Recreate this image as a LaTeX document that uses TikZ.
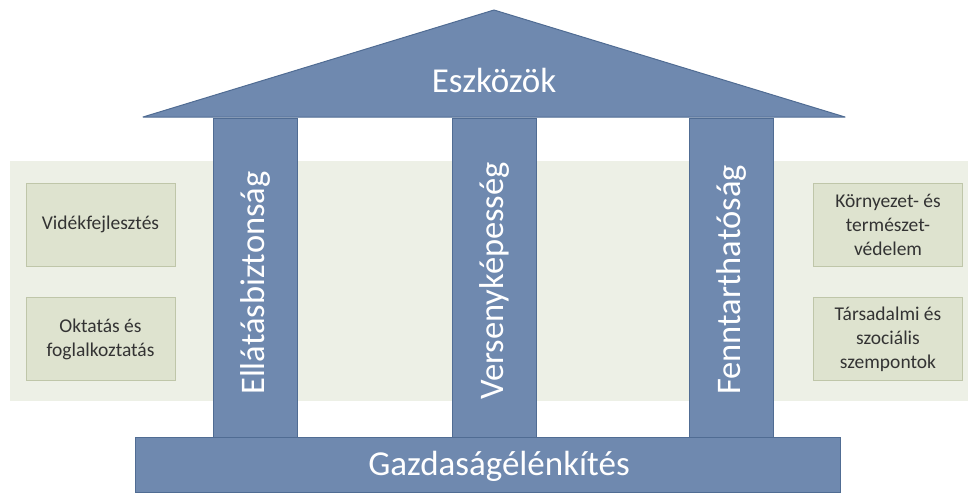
\documentclass[tikz,border=0pt]{standalone}
\usepackage{fontspec}
\setmainfont{Carlito}
\usetikzlibrary{positioning}
\definecolor{band}{HTML}{EDF0E6}
\definecolor{boxfill}{HTML}{DEE3CF}
\definecolor{boxline}{HTML}{BFC6A9}
\definecolor{pillar}{HTML}{6F89AF}
\definecolor{pillarline}{HTML}{506C93}
\definecolor{txt}{HTML}{333333}
\tikzset{
  x=1pt, y=-1pt,
  sidebox/.style={draw=boxline, fill=boxfill, line width=0.8pt, minimum width=149pt, minimum height=83pt,
    align=center, font=\fontsize{19.5}{24}\selectfont, text=txt, inner sep=2pt},
  pillarbox/.style={draw=pillarline, fill=pillar, line width=1pt, minimum width=84pt, minimum height=320pt, inner sep=0pt},
  pillartext/.style={rotate=90, text=white, font=\fontsize{34.5}{38}\selectfont, inner sep=0pt},
}
\begin{document}
\begin{tikzpicture}
\useasboundingbox (0,0) rectangle (968,495);
% background band
\fill[band] (10,161) rectangle (968,401);
% side boxes
\node[sidebox] (vid) at (100.5,224.5) {Vidékfejlesztés};
\node[sidebox] (okt) at (100.5,339) {Oktatás és\\foglalkoztatás};
\node[sidebox] (kor) at (888,224.5) {Környezet- és\\természet-\\védelem};
\node[sidebox] (tar) at (888,339) {Társadalmi és\\szociális\\szempontok};
% pillars
\node[pillarbox] (p1) at (255.5,278) {};
\node[pillarbox] (p2) at (494,278) {};
\node[pillarbox] (p3) at (731.5,278) {};
\node[pillartext] at (255.5,283) {Ellátásbiztonság};
\node[pillartext] at (494,281) {Versenyképesség};
\node[pillartext] at (731.5,280) {Fenntarthatóság};
% roof
\draw[draw=pillarline, fill=pillar, line width=1pt, line join=round] (143,117) -- (494,10) -- (845,117) -- cycle;
\node[text=white, font=\fontsize{35}{38}\selectfont, inner sep=0pt] (roof) at (494,80) {Eszközök};
% base
\node[draw=pillarline, fill=pillar, line width=1pt, minimum width=705pt, minimum height=55pt, inner sep=0pt] (base) at (487.5,465) {};
\node[text=white, font=\fontsize{35}{38}\selectfont, inner sep=0pt] at (499,466) {Gazdaságélénkítés};
\end{tikzpicture}
\end{document}
